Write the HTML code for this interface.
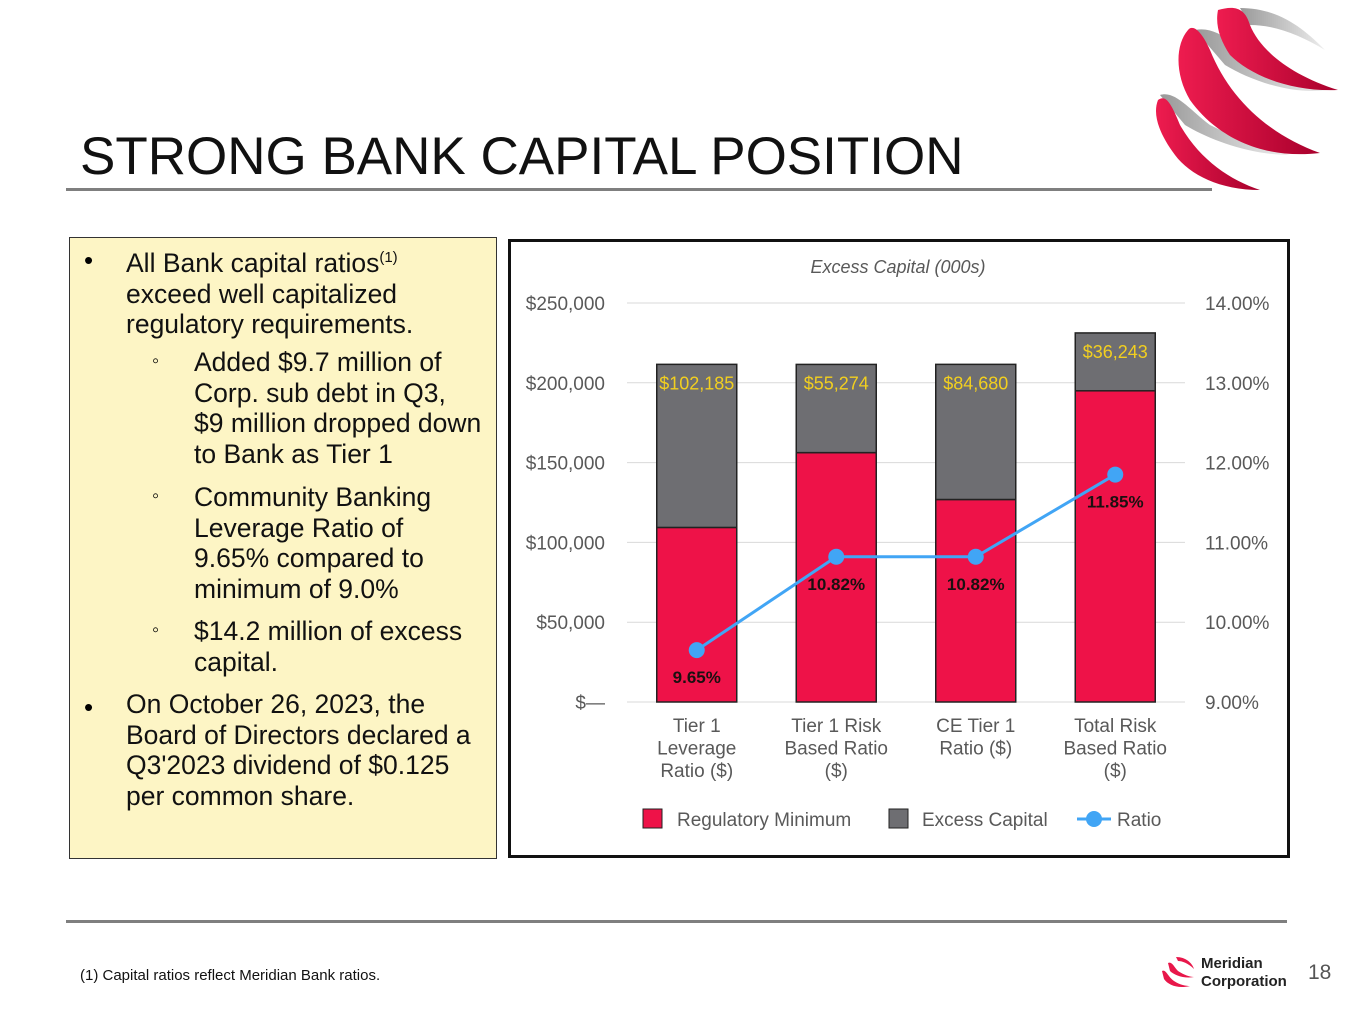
<!DOCTYPE html>
<html><head><meta charset="utf-8">
<style>
body{margin:0;width:1365px;height:1024px;background:#fff;position:relative;overflow:hidden;font-family:"Liberation Sans",sans-serif;}
.abs{position:absolute;}
#title{left:80px;top:126px;font-size:53px;color:#111;white-space:nowrap;}
#rule1{left:66px;top:188px;width:1146px;height:3px;background:#7f7f7f;}
#rule2{left:66px;top:920px;width:1221px;height:3px;background:#7f7f7f;}
#textbox{left:69px;top:237px;width:428px;height:622px;background:#fdf5c5;border:1px solid #333;box-sizing:border-box;}
.li{position:absolute;font-size:26.5px;line-height:30.7px;color:#111;white-space:nowrap;}
.b{position:absolute;font-size:26px;}
.s{position:absolute;font-size:20px;}
#chartbox{left:508px;top:239px;width:782px;height:619px;border:3px solid #111;box-sizing:border-box;}
#foot{left:80px;top:967px;font-size:15px;color:#111;}
#pg{left:1308px;top:961px;font-size:21px;color:#555;}
</style></head><body>
<div class="abs" id="title">STRONG BANK CAPITAL POSITION</div>
<div class="abs" id="rule1"></div>
<svg class="abs" style="left:1140px;top:0" width="225" height="195">
<defs><linearGradient id="gg" x1="0" x2="1"><stop offset="0" stop-color="#999"/><stop offset="1" stop-color="#eee"/></linearGradient>
<linearGradient id="rg" x1="0" x2="1"><stop offset="0" stop-color="#ee1c4f"/><stop offset="1" stop-color="#a8002c"/></linearGradient></defs>
<path d="M100 8 C140 8 165 30 185 50 C160 35 135 25 110 25Z" fill="url(#gg)"/>
<path d="M55 30 C80 25 100 50 120 70 C150 80 175 88 188 90 C150 95 110 80 85 65Z" fill="url(#gg)"/>
<path d="M20 95 C35 90 50 110 70 125 C100 140 130 150 150 155 C110 155 70 140 45 125Z" fill="url(#gg)"/>
<path d="M78 10 C95 5 105 8 110 25 C120 50 150 75 198 90 C150 92 110 75 90 55 C80 40 75 25 78 10Z" fill="url(#rg)"/>
<path d="M48 30 C52 25 60 28 70 50 C90 100 130 135 180 153 C120 160 75 135 50 100 C35 75 35 45 48 30Z" fill="url(#rg)"/>
<path d="M18 100 C25 95 30 100 40 125 C60 160 90 180 120 190 C80 190 50 175 35 155 C20 135 12 115 18 100Z" fill="url(#rg)"/>
</svg>

<div class="abs" id="textbox">
  <div class="b" style="left:14px;top:7px">•</div>
  <div class="li" style="left:56px;top:5px">All Bank capital ratios<sup style="font-size:15px">(1)</sup><br>exceed well capitalized<br>regulatory requirements.</div>
  <div class="s" style="left:82px;top:112px">◦</div>
  <div class="li" style="left:124px;top:109px">Added $9.7 million of<br>Corp. sub debt in Q3,<br>$9 million dropped down<br>to Bank as Tier 1</div>
  <div class="s" style="left:82px;top:247px">◦</div>
  <div class="li" style="left:124px;top:244px">Community Banking<br>Leverage Ratio of<br>9.65% compared to<br>minimum of 9.0%</div>
  <div class="s" style="left:82px;top:381px">◦</div>
  <div class="li" style="left:124px;top:378px">$14.2 million of excess<br>capital.</div>
  <div class="b" style="left:14px;top:454px">•</div>
  <div class="li" style="left:56px;top:451px">On October 26, 2023, the<br>Board of Directors declared a<br>Q3'2023 dividend of $0.125<br>per common share.</div>
</div>

<div class="abs" id="chartbox"></div>
<svg class="abs" id="chart" style="left:0;top:0" width="1365" height="1024"></svg>

<div class="abs" id="rule2"></div>
<div class="abs" id="foot">(1) Capital ratios reflect Meridian Bank ratios.</div>
<svg class="abs" style="left:1160px;top:955px" width="36" height="34">
<path d="M16 2 C26 2 32 8 34 14 C28 8 22 6 18 6Z" fill="#e8174a"/>
<path d="M8 8 C12 6 14 12 18 16 C24 20 30 22 34 22 C24 24 14 20 10 16Z" fill="#e8174a"/>
<path d="M2 16 C6 14 8 22 14 26 C20 30 26 31 30 31 C18 34 8 30 4 24Z" fill="#e8174a"/>
</svg>
<div class="abs" style="left:1201px;top:955px;font-size:15px;font-weight:bold;line-height:18px;color:#222">Meridian<br>Corporation</div>
<div class="abs" id="pg">18</div>

<script>
const categories = [["Tier 1","Leverage","Ratio ($)"],["Tier 1 Risk","Based Ratio","($)"],["CE Tier 1","Ratio ($)"],["Total Risk","Based Ratio","($)"]];
const regulatoryMinimum = [109375, 156250, 126875, 195000];
const excessCapital = [102185, 55274, 84680, 36243];
const excessLabels = ["$102,185","$55,274","$84,680","$36,243"];
const ratios = [9.65, 10.82, 10.82, 11.85];
const ratioLabels = ["9.65%","10.82%","10.82%","11.85%"];
const leftTicks = [0,50000,100000,150000,200000,250000];
const leftTickLabels = ["$—","$50,000","$100,000","$150,000","$200,000","$250,000"];
const rightTicks = [9,10,11,12,13,14];
const rightTickLabels = ["9.00%","10.00%","11.00%","12.00%","13.00%","14.00%"];

const svg = document.getElementById('chart');
const NS = 'http://www.w3.org/2000/svg';
const plotTop = 303, plotBottom = 702, plotLeft = 627, plotRight = 1185;
function yL(v){return plotBottom - v/250000*(plotBottom-plotTop);}
function yR(v){return plotBottom - (v-9)/5*(plotBottom-plotTop);}
const step = (plotRight-plotLeft)/categories.length;
function xC(i){return plotLeft + step*(i+0.5);}
const bw = 80;
function mk(tag, attrs, txt){const e=document.createElementNS(NS,tag);for(const k in attrs)e.setAttribute(k,attrs[k]);if(txt!==undefined)e.textContent=txt;svg.appendChild(e);return e;}

let t = mk('text',{x:898,y:273,'text-anchor':'middle','font-size':18,'font-style':'italic',fill:'#595959','font-family':'Liberation Sans'},'Excess Capital (000s)');



leftTicks.forEach((v,i)=>{
  const g = mk('line',{x1:plotLeft,x2:plotRight,y1:yL(v),y2:yL(v),stroke:'#d9d9d9','stroke-width':1});
  
  
  const l = mk('text',{x:605,y:yL(v)+7,'text-anchor':'end','font-size':19,fill:'#595959','font-family':'Liberation Sans'},leftTickLabels[i]);
  
  
});
rightTicks.forEach((v,i)=>{
  const l = mk('text',{x:1205,y:yR(v)+7,'font-size':19,fill:'#595959','font-family':'Liberation Sans'},rightTickLabels[i]);
  
  
});

categories.forEach((c,i)=>{
  const x = xC(i)-bw/2;
  const r = mk('rect',{x:x,y:yL(regulatoryMinimum[i]),width:bw,height:plotBottom-yL(regulatoryMinimum[i]),fill:'#ee1248',stroke:'#222','stroke-width':1.5});
  
  
  const tot = regulatoryMinimum[i]+excessCapital[i];
  const e = mk('rect',{x:x,y:yL(tot),width:bw,height:yL(regulatoryMinimum[i])-yL(tot),fill:'#6e6e72',stroke:'#222','stroke-width':1.5});
  
  
  const el = mk('text',{x:xC(i),y:yL(tot)+25,'text-anchor':'middle','font-size':18,fill:'#f2cf1f','font-family':'Liberation Sans'},excessLabels[i]);
  
  
  c.forEach((ln,j)=>{
    const cl = mk('text',{x:xC(i),y:732+j*22.5,'text-anchor':'middle','font-size':19,fill:'#595959','font-family':'Liberation Sans'},ln);
    
    
  });
});

const pts = ratios.map((v,i)=>xC(i)+','+yR(v)).join(' ');
const pl = mk('polyline',{points:pts,fill:'none',stroke:'#41a5f5','stroke-width':3});


ratios.forEach((v,i)=>{
  const c = mk('circle',{cx:xC(i),cy:yR(v),r:8,fill:'#41a5f5'});
  
  
  const l = mk('text',{x:xC(i),y:yR(v)+33,'text-anchor':'middle','font-size':17,'font-weight':'bold',fill:'#1a1010','font-family':'Liberation Sans'},ratioLabels[i]);
  
  
});

let lr = mk('rect',{x:643,y:809,width:19,height:19,fill:'#ee1248',stroke:'#222','stroke-width':1});


let lt = mk('text',{x:677,y:826,'font-size':19,fill:'#595959','font-family':'Liberation Sans'},'Regulatory Minimum');


let lr2 = mk('rect',{x:889,y:809,width:19,height:19,fill:'#6e6e72',stroke:'#222','stroke-width':1});


let lt2 = mk('text',{x:922,y:826,'font-size':19,fill:'#595959','font-family':'Liberation Sans'},'Excess Capital');


let ll = mk('line',{x1:1077,x2:1111,y1:819,y2:819,stroke:'#41a5f5','stroke-width':3});


let lc = mk('circle',{cx:1094,cy:819,r:8,fill:'#41a5f5'});


let lt3 = mk('text',{x:1117,y:826,'font-size':19,fill:'#595959','font-family':'Liberation Sans'},'Ratio');


</script>
</body></html>
